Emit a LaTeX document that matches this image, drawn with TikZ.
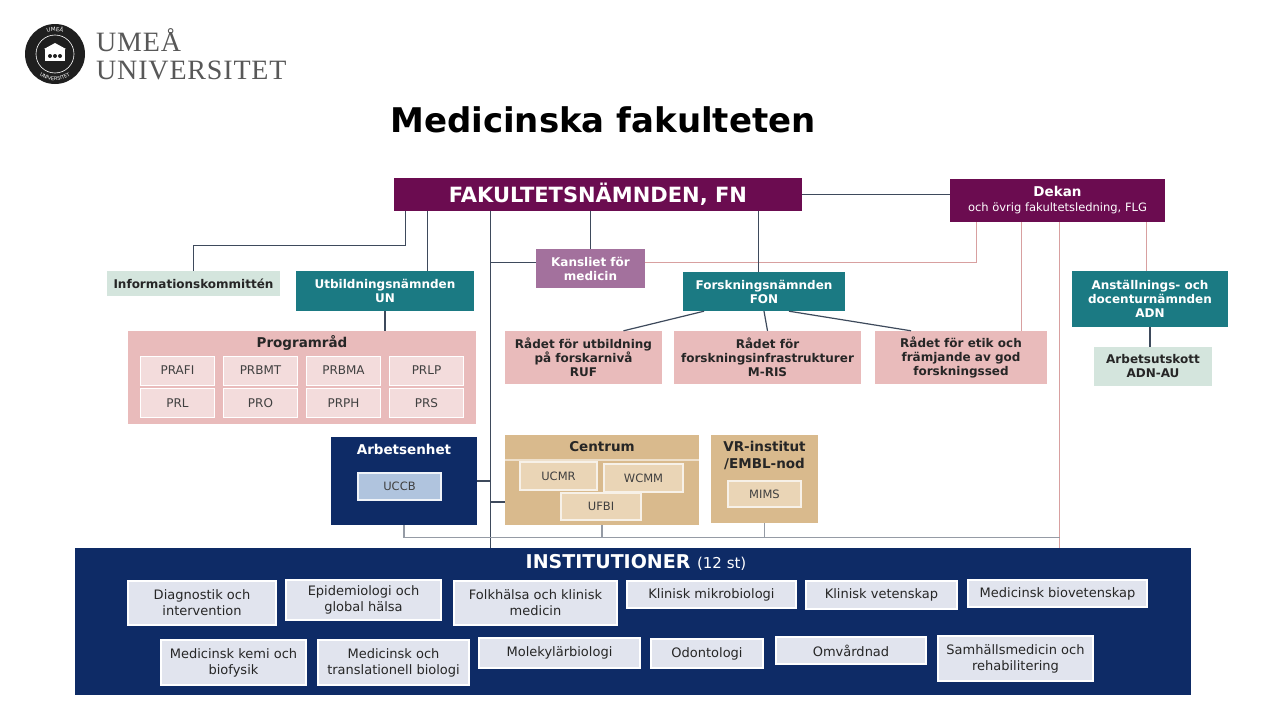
\documentclass[tikz,border=0pt]{standalone}
\usepackage{fontspec}
\setmainfont{DejaVu Sans}
\newfontfamily\logofont[LetterSpace=3]{Liberation Serif}
\usetikzlibrary{calc}
\usetikzlibrary{decorations.text}
\definecolor{fnpurple}{RGB}{107,12,80}
\definecolor{unteal}{RGB}{27,122,131}
\definecolor{kansmauve}{RGB}{163,113,157}
\definecolor{radpink}{RGB}{233,187,187}
\definecolor{prpink}{RGB}{243,220,220}
\definecolor{infogreen}{RGB}{212,229,221}
\definecolor{instnavy}{RGB}{14,43,102}
\definecolor{uccbblue}{RGB}{176,196,222}
\definecolor{centan}{RGB}{217,186,141}
\definecolor{centlight}{RGB}{234,213,182}
\definecolor{instgray}{RGB}{225,228,238}
\definecolor{linedark}{RGB}{62,74,92}
\definecolor{linepink}{RGB}{216,160,160}
\definecolor{logogray}{RGB}{88,88,88}
\tikzset{sz/.style 2 args={minimum width=#1pt, minimum height=#2pt}}
\tikzset{box/.style={align=center, inner sep=1pt, text=black!85,
  font=\bfseries\fontsize{12}{14}\selectfont}}
\tikzset{fnbox/.style={box, fill=fnpurple, text=white}}
\tikzset{tealbox/.style={box, fill=unteal, text=white}}
\tikzset{pinkbox/.style={box, fill=radpink}}
\tikzset{greenbox/.style={box, fill=infogreen}}
\tikzset{navybox/.style={box, fill=instnavy, text=white}}
\tikzset{tanbox/.style={box, fill=centan}}
\tikzset{prbox/.style={fill=prpink, draw=white, line width=1pt, sz={74}{29},
  text=black!75, font=\fontsize{12}{14}\selectfont}}
\tikzset{unitbox/.style={fill=centlight, draw=white!80!centan, line width=1.2pt,
  text=black!75, font=\fontsize{11.5}{13}\selectfont}}
\tikzset{inst/.style={fill=instgray, draw=white, line width=1.2pt, align=center,
  inner sep=1pt, text=black!85, font=\fontsize{13}{16}\selectfont}}
\tikzset{link/.style={draw=linedark, line width=1.2pt}}
\tikzset{pinklink/.style={draw=linepink, line width=1.2pt}}
\tikzset{buslink/.style={draw=linedark!55, line width=1.2pt}}

\begin{document}
\begin{tikzpicture}[x=1pt, y=-1pt]
  \fill[white] (0,0) rectangle (1280,720);
  \useasboundingbox (0,0) rectangle (1280,720);

  \begin{scope}[shift={(55,54)}, y=1pt]
    \fill[black!88] (0,0) circle (30);
    \draw[white, line width=0.6pt] (0,0) circle (19);
    \path[decorate, decoration={text along path, text align=center,
      text={|\color{white}\fontsize{5.5}{6}\selectfont|UMEÅ}}]
      (150:22.5) arc[start angle=150, end angle=30, radius=22.5];
    \path[decorate, decoration={text along path, text align=center,
      text={|\color{white}\fontsize{5}{6}\selectfont|UNIVERSITET}}]
      (200:26.5) arc[start angle=200, end angle=340, radius=26.5];
    \fill[white] (-10,-7) rectangle (10,5);
    \fill[white] (-11,5) -- (0,11) -- (11,5) -- cycle;
    \foreach \bx in {-5,0,5}
      \fill[black!88] (\bx,-2) circle (2);
  \end{scope}
  \node[anchor=base west, inner sep=0, text=logogray,
    font=\logofont\fontsize{28}{28}\selectfont] (umea) at (96,51) {UMEÅ};
  \node[anchor=base west, inner sep=0, text=logogray,
    font=\logofont\fontsize{28}{28}\selectfont] (univ) at (96,79) {UNIVERSITET};

  \node[font=\bfseries\fontsize{34}{36}\selectfont] (title) at (603,120) {Medicinska fakulteten};

  \node[fnbox, sz={408}{33}, font=\bfseries\fontsize{21}{24}\selectfont] (FN) at (598,194.5) {FAKULTETSNÄMNDEN, FN};
  \node[fnbox, sz={215}{43}, font=\bfseries\fontsize{13.5}{15}\selectfont] (Dekan) at (1057.5,200.5)
    {Dekan\\{\mdseries\fontsize{11.5}{13}\selectfont och övrig fakultetsledning, FLG}};
  \node[greenbox, sz={173}{25}] (Info) at (193.5,283.5) {Informationskommittén};
  \node[tealbox, sz={178}{40}] (UN) at (385,291) {Utbildningsnämnden\\UN};
  \node[box, fill=kansmauve, text=white, sz={109}{39}, font=\bfseries\fontsize{12}{14}\selectfont] (Kansliet) at (590.5,268.5) {Kansliet för\\medicin};
  \node[tealbox, sz={162}{39}] (FON) at (764,291.5) {Forskningsnämnden\\FON};
  \node[tealbox, sz={156}{56}] (ADN) at (1150,299) {Anställnings- och\\docenturnämnden\\ADN};
  \node[greenbox, sz={118}{39}] (AU) at (1153,366.5) {Arbetsutskott\\ADN-AU};
  \node[pinkbox, sz={157}{53}] (RUF) at (583.5,357.5) {Rådet för utbildning\\på forskarnivå\\RUF};
  \node[pinkbox, sz={187}{53}] (MRIS) at (767.5,357.5) {Rådet för\\forskningsinfrastrukturer\\M-RIS};
  \node[pinkbox, sz={172}{53}] (Etik) at (961,357.5) {Rådet för etik och\\främjande av god\\forskningssed};

  \node[pinkbox, sz={348}{93}] (Prog) at (302,377.5) {};
  \node[box, font=\bfseries\fontsize{13.5}{15}\selectfont] (progT) at ([yshift=-12pt]Prog.north) {Programråd};
  \foreach \lab/\cx in {PRAFI/177.5,PRBMT/260.5,PRBMA/343.5,PRLP/426.5}
    \node[prbox] (\lab) at (\cx,370.5) {\lab};
  \foreach \lab/\cx in {PRL/177.5,PRO/260.5,PRPH/343.5,PRS/426.5}
    \node[prbox] (\lab) at (\cx,403) {\lab};

  \node[navybox, sz={146}{88}] (Arb) at (404,481) {};
  \node[box, text=white, font=\bfseries\fontsize{13.5}{15}\selectfont] (arbT) at ([yshift=-13pt]Arb.north) {Arbetsenhet};
  \node[fill=uccbblue, draw=white!80!uccbblue, line width=1.2pt, sz={83}{27},
    text=black!75, font=\fontsize{11.5}{13}\selectfont] (UCCB) at (399.5,486.5) {UCCB};

  \node[tanbox, sz={194}{90}] (Centrum) at (602,480) {};
  \draw[white!55!centan, line width=1.5pt] ([yshift=-25pt]Centrum.north west) -- ([yshift=-25pt]Centrum.north east);
  \node[box, font=\bfseries\fontsize{13.5}{15}\selectfont] (centT) at ([yshift=-12pt]Centrum.north) {Centrum};
  \node[unitbox, sz={77}{28}] (UCMR) at (558.5,476) {UCMR};
  \node[unitbox, sz={79}{28}] (WCMM) at (643.5,478) {WCMM};
  \node[unitbox, sz={80}{27}] (UFBI) at (601,506.5) {UFBI};

  \node[tanbox, sz={107}{88}] (VR) at (764.5,479) {};
  \node[box, font=\bfseries\fontsize{13.5}{17}\selectfont] (vrT) at (764.5,455) {VR-institut\\/EMBL-nod};
  \node[unitbox, sz={73}{26}] (MIMS) at (764.5,494) {MIMS};

  \node[navybox, sz={1116}{147}] (Inst) at (633,621.5) {};
  \node[box, text=white, font=\bfseries\fontsize{19}{21}\selectfont] (instT) at (636,562)
    {INSTITUTIONER {\mdseries\fontsize{15}{17}\selectfont(12 st)}};
  \node[inst, sz={148}{44}] (diag) at (202,603) {Diagnostik och\\intervention};
  \node[inst, sz={155}{40}] (epid) at (363.5,600) {Epidemiologi och\\global hälsa};
  \node[inst, sz={163}{44}] (folk) at (535.5,603) {Folkhälsa och klinisk\\medicin};
  \node[inst, sz={169}{27}] (mikro) at (711.5,594.5) {Klinisk mikrobiologi};
  \node[inst, sz={151}{28}] (vet) at (881.5,595) {Klinisk vetenskap};
  \node[inst, sz={179}{27}] (biov) at (1057.5,593.5) {Medicinsk biovetenskap};
  \node[inst, sz={145}{45}] (kemi) at (233.5,662.5) {Medicinsk kemi och\\biofysik};
  \node[inst, sz={151}{45}] (trans) at (393.5,662.5) {Medicinsk och\\translationell biologi};
  \node[inst, sz={161}{30}] (molek) at (559.5,653) {Molekylärbiologi};
  \node[inst, sz={112}{29}] (odont) at (707,653.5) {Odontologi};
  \node[inst, sz={150}{27}] (omv) at (851,650.5) {Omvårdnad};
  \node[inst, sz={155}{45}] (samh) at (1015.5,658.5) {Samhällsmedicin och\\rehabilitering};

  \coordinate (fnI) at ([xshift=12pt]FN.south west);
  \coordinate (fnU) at ([xshift=34pt]FN.south west);
  \coordinate (fnV) at ([xshift=97pt]FN.south west);
  \coordinate (fnF) at ([xshift=365pt]FN.south west);
  \coordinate (dkK) at ([xshift=27pt]Dekan.south west);
  \coordinate (dkE) at ([xshift=72pt]Dekan.south west);
  \coordinate (dkI) at ([xshift=110pt]Dekan.south west);
  \coordinate (dkA) at ([xshift=197pt]Dekan.south west);
  \coordinate (kL) at ([yshift=6pt]Kansliet.west);
  \coordinate (kR) at ([yshift=6pt]Kansliet.east);
  \coordinate (cL) at ([yshift=-22pt]Centrum.west);
  \coordinate (busL) at ([yshift=-12pt]Arb.south);

  \draw[link] (FN.east) -- (FN.east -| Dekan.west);
  \draw[link] (fnI) -- ++(0,34) -| (Info.north);
  \draw[link] (fnU) -- (fnU |- UN.north);
  \draw[link] (fnV) -- (fnV |- Inst.north);
  \draw[link] (FN.south -| Kansliet.north) -- (Kansliet.north);
  \draw[link] (kL) -- (kL -| fnV);
  \draw[pinklink] (kR) -| (dkK);
  \draw[link] (fnF) -- (fnF |- FON.north);
  \draw[link] ([xshift=-60pt]FON.south) -- ([xshift=40pt]RUF.north);
  \draw[link] (FON.south) -- (MRIS.north);
  \draw[link] ([xshift=25pt]FON.south) -- ([xshift=-50pt]Etik.north);
  \draw[pinklink] (dkE) -- (dkE |- Etik.north);
  \draw[pinklink] (dkI) -- (dkI |- Inst.north);
  \draw[pinklink] (dkA) -- (dkA |- ADN.north);
  \draw[link] (ADN.south) -- (ADN.south |- AU.north);
  \draw[link] (UN.south) -- (UN.south |- Prog.north);
  \draw[link] (Arb.east) -- (Arb.east -| fnV);
  \draw[link] (cL) -- (cL -| fnV);
  \draw[buslink] (Arb.south) -- (busL) -- (busL -| dkI);
  \draw[buslink] (Centrum.south) -- (Centrum.south |- busL);
  \draw[buslink] (VR.south) -- (VR.south |- busL);
\end{tikzpicture}
\end{document}
